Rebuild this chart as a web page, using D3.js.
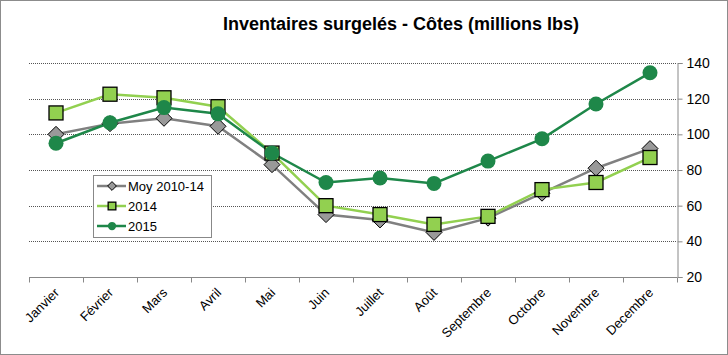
<!DOCTYPE html>
<html><head><meta charset="utf-8">
<script src="https://cdn.jsdelivr.net/npm/d3@7"></script>
<style>body{margin:0;background:#fff}svg{display:block}text{font-family:"Liberation Sans",Arial,sans-serif}</style>
</head><body><svg id="c" width="728" height="355"></svg>
<script>
const months = ["Janvier","Février","Mars","Avril","Mai","Juin","Juillet","Août","Septembre","Octobre","Novembre","Decembre"];
const moy = [100,106,109,104.5,83,55,52,45,53,67,81,92];
const y2014 = [112,122.5,120.5,115.5,89.5,60,55,49.5,54,69,73,87];
const y2015 = [95,106.5,115,111.5,89.5,73,75.5,72.5,85,97.5,117,134.5];
const yTicks = [20,40,60,80,100,120,140];
const seriesNames = ["Moy 2010-14","2014","2015"];

const svg = d3.select("#c");
svg.append("rect").attr("x",0.5).attr("y",0.5).attr("width",727).attr("height",354).attr("fill","#fff").attr("stroke","#8c8c8c").attr("stroke-width",1);

const L=29, R=677, T=63, B=277;
const x = d3.scaleBand().domain(months).range([L,R]);
const y = d3.scaleLinear().domain([20,140]).range([B,T]);

svg.append("text").attr("x",401).attr("y",30).attr("text-anchor","middle").attr("font-size",18).attr("font-weight","bold").attr("fill","#000").text("Inventaires surgelés - Côtes (millions lbs)");

// gridlines
svg.append("g").selectAll("line").data(yTicks.filter(d=>d>20)).join("line")
  .attr("x1",L).attr("x2",R).attr("y1",d=>Math.round(y(d))+0.5).attr("y2",d=>Math.round(y(d))+0.5)
  .attr("stroke","#555").attr("stroke-width",1).attr("stroke-dasharray","1,1");

// right axis
const ya = svg.append("g").attr("transform",`translate(${R+0.5},0)`).call(d3.axisRight(y).tickValues(yTicks).tickSize(5).tickPadding(4));
ya.select(".domain").attr("stroke","#888");
ya.selectAll(".tick line").attr("stroke","#888");
ya.selectAll(".tick text").attr("font-size",14).attr("fill","#000").attr("font-family","Liberation Sans, Arial, sans-serif");

// bottom axis
const xa = svg.append("g").attr("transform",`translate(0,${B+0.5})`);
xa.append("line").attr("x1",L).attr("x2",R).attr("stroke","#888");
const bounds = d3.range(months.length+1).map(i=>L+i*x.bandwidth());
xa.selectAll("line.t").data(bounds).join("line").attr("class","t").attr("x1",d=>Math.round(d)+0.5).attr("x2",d=>Math.round(d)+0.5).attr("y1",0).attr("y2",5).attr("stroke","#888");
xa.selectAll("text").data(months).join("text")
  .attr("transform",d=>`translate(${x(d)+x.bandwidth()/2+4},${16}) rotate(-45)`)
  .attr("text-anchor","end").attr("font-size",13).attr("fill","#000").text(d=>d);

const line = d3.line().x((d,i)=>x(months[i])+x.bandwidth()/2).y(d=>y(d));
const cfg = [
  {data:moy, color:"#808080", marker:"diamond", fill:"#999"},
  {data:y2014, color:"#92D050", marker:"square", fill:"#92D050"},
  {data:y2015, color:"#1E8749", marker:"circle", fill:"#1E8749"}
];
function drawMarker(g, type, cx, cy, fill, scale){
  const s = scale||1;
  if(type==="diamond"){
    const r=8*s;
    g.append("path").attr("d",`M${cx},${cy-r}L${cx+r},${cy}L${cx},${cy+r}L${cx-r},${cy}Z`).attr("fill",fill).attr("stroke","#000").attr("stroke-width",1);
  } else if(type==="square"){
    const r=7*s;
    g.append("rect").attr("x",cx-r).attr("y",cy-r).attr("width",2*r).attr("height",2*r).attr("fill",fill).attr("stroke","#000").attr("stroke-width",1.3);
  } else {
    g.append("circle").attr("cx",cx).attr("cy",cy).attr("r",7.5*s).attr("fill",fill);
  }
}
cfg.forEach(c=>{
  svg.append("path").attr("d",line(c.data)).attr("fill","none").attr("stroke",c.color).attr("stroke-width",2.5);
});
cfg.forEach(c=>{
  const g = svg.append("g");
  c.data.forEach((v,i)=>drawMarker(g,c.marker,x(months[i])+x.bandwidth()/2,y(v),c.fill));
});

// legend
const lg = svg.append("g");
lg.append("rect").attr("x",93.5).attr("y",175.5).attr("width",118).attr("height",62).attr("fill","#fff").attr("stroke","#888");
seriesNames.forEach((n,i)=>{
  const yy = 186+i*20;
  lg.append("line").attr("x1",97).attr("x2",126).attr("y1",yy).attr("y2",yy).attr("stroke",cfg[i].color).attr("stroke-width",2.5);
  drawMarker(lg,cfg[i].marker,112,yy,cfg[i].fill,0.55);
  lg.append("text").attr("x",128).attr("y",yy+5).attr("font-size",13).attr("fill","#000").text(n);
});
</script></body></html>
